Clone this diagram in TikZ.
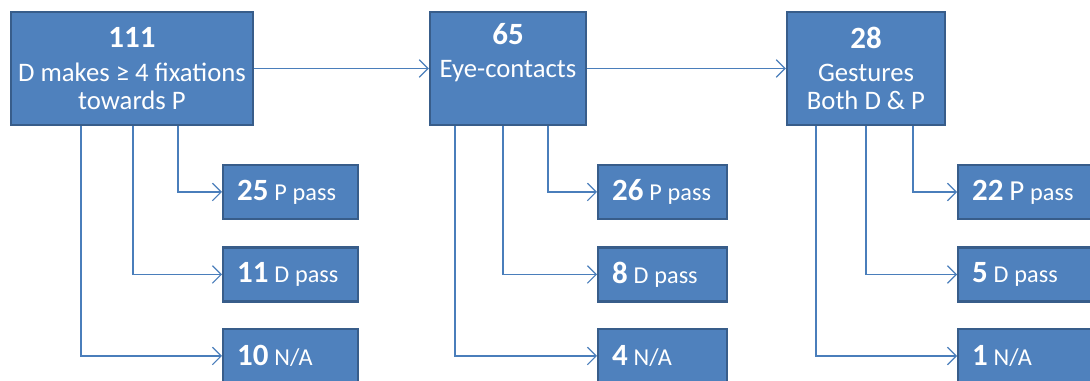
\documentclass[tikz,border=0pt]{standalone}
\usepackage{fontspec}
\setmainfont{Carlito}
\usetikzlibrary{arrows.meta,calc}

\definecolor{boxfill}{HTML}{4F81BD}
\definecolor{boxline}{HTML}{385D8A}
\definecolor{linkblue}{HTML}{4A7EBB}

\newcommand\numfont{\fontsize{17.6}{20}\selectfont\bfseries}
\newcommand\txtfont{\fontsize{15.2}{16}\selectfont}
\newcommand\lblfont{\fontsize{13.8}{15}\selectfont}

\tikzset{
  stage/.style={draw=boxline, line width=1.3pt, fill=boxfill, text=white,
    font=\txtfont, align=center, minimum height=2.26cm, inner sep=0pt},
  outcome/.style={draw=boxline, line width=1.3pt, fill=boxfill, text=white,
    align=left, minimum height=1.08cm, inner xsep=0.28cm, inner ysep=0pt, anchor=west},
  link/.style={draw=linkblue, line width=0.7pt, -{Straight Barb[length=5pt,width=10pt]}},
}

\begin{document}
\begin{tikzpicture}[x=0.02cm, y=-0.02cm]
    \useasboundingbox (0,0) rectangle (1090,381);
    \clip (0,0) rectangle (1090,381);

    % --- stages along the top ---
    \node[stage, minimum width=4.84cm] (fix) at (132,68.5)
        {{\numfont 111}\\[3pt] D makes ≥ 4 fixations\\ towards P};
    \node[stage, minimum width=3.12cm] (eye) at (508,68.5)
        {{\numfont 65}\\[3pt] Eye-contacts\\ \strut};
    \node[stage, minimum width=3.16cm] (gest) at (866,68.5)
        {{\numfont 28}\\[3pt] Gestures\\ Both D \& P};

    \draw[link] (fix.east) -- (eye.west);
    \draw[link] (eye.east) -- (gest.west);

    % --- outcomes of the first stage ---
    \node[outcome, text width=2.14cm] (p25) at (222,192) {{\numfont 25} \lblfont P pass};
    \node[outcome, text width=2.14cm] (d11) at (222,274.5) {{\numfont 11} \lblfont D pass};
    \node[outcome, text width=2.14cm] (na10) at (222,356) {{\numfont 10} \lblfont N/A};

    \draw[link] ($(fix.south)+(46,0)$) |- (p25.west);
    \draw[link] ($(fix.south)+(1,0)$) |- (d11.west);
    \draw[link] ($(fix.south)+(-51,0)$) |- (na10.west);

    % --- outcomes of the second stage ---
    \node[outcome, text width=2.02cm] (p26) at (597,192) {{\numfont 26} \lblfont P pass};
    \node[outcome, text width=2.02cm] (d8) at (597,274.5) {{\numfont 8} \lblfont D pass};
    \node[outcome, text width=2.02cm] (na4) at (597,356) {{\numfont 4} \lblfont N/A};

    \draw[link] ($(eye.south)+(40,0)$) |- (p26.west);
    \draw[link] ($(eye.south)+(-5,0)$) |- (d8.west);
    \draw[link] ($(eye.south)+(-53,0)$) |- (na4.west);

    % --- outcomes of the third stage ---
    \node[outcome, text width=2.14cm] (p22) at (957,192)
        {{\numfont 22} {\fontsize{16.5}{18}\selectfont P} \lblfont pass};
    \node[outcome, text width=2.14cm] (d5) at (957,274.5) {{\numfont 5} \lblfont D pass};
    \node[outcome, text width=2.14cm] (na1) at (957,356) {{\numfont 1} \lblfont N/A};

    \draw[link] ($(gest.south)+(47,0)$) |- (p22.west);
    \draw[link] ($(gest.south)+(0,0)$) |- (d5.west);
    \draw[link] ($(gest.south)+(-50,0)$) |- (na1.west);

\end{tikzpicture}
\end{document}
